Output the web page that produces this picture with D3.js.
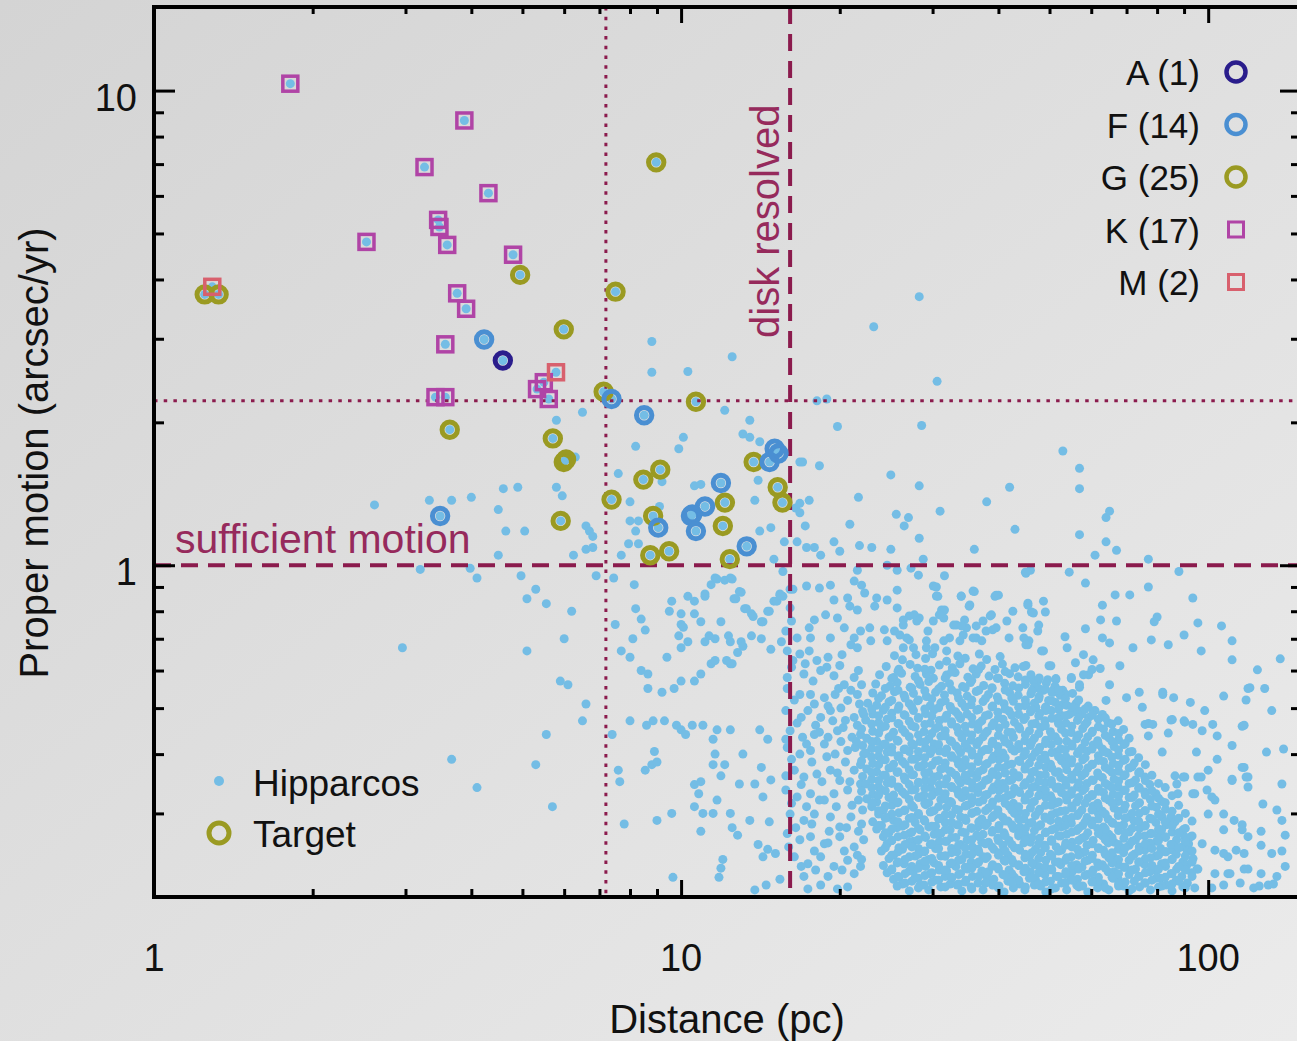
<!DOCTYPE html>
<html>
<head>
<meta charset="utf-8">
<script src="https://cdn.jsdelivr.net/npm/d3@7"></script>
<style>
html,body{margin:0;padding:0;overflow:hidden;}
text{font-family:"Liberation Sans",Arial,Helvetica,sans-serif;}
</style>
</head>
<body>
<div id="chart"></div>
<script>
// ---- data: [distance (pc), proper motion (arcsec/yr)] ----
var typeA = [[4.59,2.70]];
var typeF = [[4.23,2.99],[3.49,1.27],[7.38,2.24],[8.51,2.07],[15.05,1.76],[14.72,1.65],[15.3,1.72],[11.9,1.49],[11.1,1.33],[10.44,1.27],[10.5,1.28],[10.67,1.18],[9.05,1.20],[13.32,1.096]];
var typeG = [[1.248,3.72],[1.326,3.72],[8.97,7.06],[4.95,4.09],[7.51,3.77],[5.99,3.14],[7.13,2.32],[10.67,2.21],[3.64,1.93],[5.71,1.85],[5.99,1.65],[6.05,1.67],[5.91,1.24],[7.38,1.375],[8.48,1.515],[9.13,1.59],[8.85,1.27],[8.74,1.05],[9.49,1.07],[12.11,1.355],[12.0,1.21],[12.37,1.03],[13.73,1.65],[15.25,1.46],[15.57,1.355]];
var typeK = [[1.814,10.34],[3.88,8.65],[3.26,6.9],[4.31,6.08],[2.53,4.8],[3.46,5.34],[3.48,5.16],[3.6,4.73],[4.8,4.51],[3.76,3.74],[3.91,3.47],[3.57,2.92],[3.42,2.26],[3.57,2.26],[5.33,2.35],[5.49,2.43],[5.61,2.24]];
var typeM = [[1.29,3.86],[5.79,2.55]];

var legendLabels = ["A (1)","F (14)","G (25)","K (17)","M (2)"];
var xTickLabels = [1,10,100];
var yTickLabels = [1,10];
var xMinor = [2,3,4,5,6,7,8,9,20,30,40,50,60,70,80,90];
var yMinor = [0.3,0.4,0.5,0.6,0.7,0.8,0.9,2,3,4,5,6,7,8,9];

var motionLimit = 1.0, motionDotted = 2.22;
var distLimit = 16.1, distDotted = 7.2;

// Hipparcos stars, by region
var hipHigh = [[2.62,1.34],[3.33,1.37],[3.67,1.37],[4.0,1.39],[4.5,1.31],[4.6,1.45],[4.9,1.46],[4.65,1.18],[5.05,1.18],[4.5,1.05],[5.8,1.46],[5.95,1.4],[5.8,2.02],[6.5,2.1],[6.3,1.69],[6.6,1.21],[6.7,1.18],[6.8,1.15],[6.8,1.09],[6.6,1.08],[6.25,1.05],[7.6,1.56],[7.7,1.05],[7.95,1.11],[8.0,1.24],[8.0,1.36],[8.2,1.18],[8.2,1.78],[8.3,1.11],[8.3,1.24],[8.8,2.55],[8.8,2.96],[9.1,1.33],[9.2,1.5],[9.9,1.76],[10.1,1.86],[10.3,2.56],[10.6,1.47],[10.9,1.48],[12.1,2.12],[12.5,2.75],[13.1,1.89],[13.5,1.86],[13.5,2.02],[13.8,1.37],[14.0,1.51],[14.1,1.82],[14.1,1.18],[14.8,1.2],[15.0,1.03],[15.7,1.12],[16.5,1.32],[16.6,1.12],[16.8,1.29],[16.8,1.65],[16.8,1.35],[17.0,1.65],[17.2,1.21],[17.3,1.09],[17.5,1.37],[17.9,1.09],[18.1,2.22],[18.3,1.62],[18.4,1.05],[18.9,2.24],[19.5,1.12],[19.8,1.96],[20.0,1.07],[20.9,1.22],[21.7,1.39],[21.8,1.1],[23,1.09],[23.2,3.18],[25,1.55],[25,1.08],[25.6,1.28],[26.5,1.21],[27,1.26],[28.3,3.68],[28.3,1.47],[28.3,1.14],[28.6,1.97],[28.8,1.03],[30.6,2.44],[31,1.3],[36,1.08],[38,1.36],[42,1.46],[43,1.19],[53,1.74],[57,1.6],[57,1.45],[57,1.16],[61,1.05],[64,1.12],[64,1.26],[65,1.3],[67,1.075],[77,1.03]];

var hipLow = [[2.96,.67],[3.2,.98],[3.67,.39],[4.1,.34],[3.98,.985],[4.1,.94],[4.97,.95],[5.3,.89],[5.1,.85],[5.55,.83],[5.55,.44],[5.3,.38],[5.7,.31],[5.1,.66],[5.9,.57],[6.1,.56],[6.0,.70],[6.2,.80],[6.5,.47],[6.6,.51],[6.9,.95],[7.45,.94],[7.5,.75],[7.4,.44],[7.6,.37],[7.65,.35],[7.8,.285],[7.7,.66],[8.0,.64],[8.1,.70],[8.0,.47],[8.15,.91],[8.2,.81],[8.4,.77],[8.55,.73],[8.4,.60],[8.65,.59],[8.6,.46],[8.55,.37],[8.65,.55],[8.8,.38],[8.85,.47],[8.9,.405],[9.0,.385],[9.0,.29],[9.2,.54],[9.3,.47],[9.4,.64],[9.5,.80],[9.6,.84],[9.6,.30],[9.65,.22],[9.7,.55],[9.8,.46],[10.0,.57],[10.0,.45],[10.0,.75],[9.9,.71],[10.1,.74],[10.3,.69],[10.0,.67],[10.0,.79],[10.2,.44],[10.3,.86],[10.5,.46],[10.6,.84],[10.6,.57],[10.6,.79],[10.6,.345],[10.6,.31],[10.8,.33],[10.9,.59],[10.9,.76],[10.9,.35],[10.9,.275],[11.0,.46],[11.0,.30],[11.1,.87],[11.1,.69],[11.3,.71],[11.4,.91],[11.4,.62],[11.5,.43],[11.5,.38],[11.5,.30],[11.6,.94],[11.6,.63],[11.6,.70],[11.6,.40],[11.7,.45],[11.7,.32],[11.8,.22],[11.9,.76],[11.9,.36],[11.9,.23],[12.0,.24],[12.1,.93],[12.1,.38],[11.7,.935],[11.1,.86]];

var hipNear = [[12.3,.71],[12.4,.94],[12.4,.69],[12.4,.62],[12.4,.45],[12.4,.30],[12.5,.28],[12.6,.85],[12.8,.27],[12.9,.88],[12.9,.346],[13.0,.69],[13.1,.40],[13.2,.81],[13.5,.29],[13.6,.79],[13.8,.346],[13.8,.207],[14.0,.258],[14.1,.45],[14.2,.76],[14.2,.375],[14.3,.325],[14.3,.243],[14.5,.212],[14.6,.80],[14.6,.43],[14.6,.252],[14.7,.288],[14.8,.353],[15.0,.84],[15.1,.247],[15.4,.87],[15.4,.218],[16.1,.89],[12.2,.63],[12.8,.655],[13.1,.675],[13.6,.71],[14.2,.70],[14.8,.665],[15.5,.69],[12.7,.85],[13.3,.81],[13.7,.78],[14.3,.76],[14.7,.80],[15.2,.84],[15.6,.86],[16.3,.89],[12.5,.935],[13.0,.877],[12.5,.62],[15.6,.97]];

var hipMid = [[15.9,.66],[16.8,.65],[17.5,.66],[18.1,.63],[19.0,.64],[20.2,.648],[21.0,.68],[21.6,.67],[16.2,.61],[17.1,.59],[18.4,.60],[19.5,.585],[20.4,.56],[21.3,.58],[22.0,.56],[15.9,.55],[16.8,.534],[17.6,.534],[18.7,.526],[19.6,.534],[20.7,.519],[21.6,.534],[15.8,.494],[16.9,.478],[17.4,.494],[18.4,.478],[19.2,.494],[20.5,.471],[21.3,.478],[22.2,.485],[16.1,.448],[17.0,.434],[17.9,.44],[19.0,.434],[19.8,.448],[21.1,.434],[21.9,.44],[15.9,.413],[16.8,.40],[17.6,.407],[18.7,.42],[19.6,.40],[20.7,.407],[21.4,.413],[22.2,.40],[16.4,.37],[17.1,.358],[18.1,.363],[19.2,.37],[20.0,.352],[21.3,.37],[21.9,.346],[15.8,.336],[16.6,.325],[17.6,.33],[18.7,.32],[19.5,.33],[20.7,.336],[21.7,.32],[16.1,.299],[17.1,.29],[17.9,.299],[19.2,.295],[20.0,.281],[21.0,.295],[22.0,.285],[15.9,.272],[16.8,.264],[17.6,.268],[18.7,.259],[20.0,.268],[21.3,.255],[22.2,.264],[16.4,.243],[17.4,.235],[18.4,.243],[19.5,.232],[20.7,.239],[21.9,.232],[17.1,.221],[19.0,.221],[21.3,.224],[19.8,.208],
[16.3,.63],[17.2,.62],[18.9,.61],[20.0,.615],[21.7,.60],[15.9,.58],[17.8,.57],[19.9,.55],[21.0,.545],[16.4,.52],[17.9,.51],[19.0,.505],[20.1,.50],[21.8,.51],[16.6,.465],[18.0,.46],[19.4,.47],[20.3,.455],[21.6,.46],[15.8,.43],[17.3,.42],[18.3,.445],[20.1,.425],[21.5,.425],[16.2,.39],[17.7,.385],[18.9,.395],[20.5,.385],[21.9,.38],[15.8,.36],[16.9,.345],[18.5,.35],[19.8,.365],[20.9,.35],[16.2,.315],[17.3,.31],[18.3,.32],[19.7,.31],[21.1,.312],[22.1,.305],[16.5,.28],[17.7,.285],[19.1,.275],[20.6,.28],[21.7,.275],[16.0,.255],[17.9,.25],[19.0,.26],[20.4,.25],[21.6,.245],[16.9,.232],[18.0,.228],[20.2,.228],[22.0,.24],[18.4,.212],[20.7,.21],[17.4,.208]];

var hipUpper = [[24.6,1.0],[21.6,.976],[25.7,.976],[27.3,.986],[28.2,.953],[31.6,.95],[45.1,.962],[17.3,.904],[18.3,.895],[19.2,.908],[19.5,.845],[20.7,.853],[21.3,.926],[22.0,.908],[22.3,.874],[23.5,.853],[24.6,.845],[23.3,.82],[21.6,.805],[20.9,.82],[25.7,.886],[25.7,.813],[30.1,.904],[30.5,.861],[34.0,.861],[35.8,.882],[35.2,.82],[31.2,.805],[31.5,.774],[39.6,.865],[42.6,.80],[45.5,.832],[38.8,.786],[37.4,.763],[33.3,.748],[34.8,.738],[29.4,.727],[28.3,.774],[27.1,.782],[26.4,.748],[25.4,.727],[24.3,.731],[22.8,.738],[21.9,.727],[20.4,.738],[19.8,.774],[18.8,.786],[17.9,.767],[17.5,.738],[16.2,.763],[16.1,.813],[15.4,.865],[15.8,.727],[16.6,.703],[17.6,.703],[19.2,.703],[21.3,.703],[22.9,.693],[24.6,.693],[27.1,.696],[29.2,.693],[32.3,.703],[34.3,.713],[36.3,.703],[39.0,.731],[41.9,.703],[45.7,.693],[44.5,.738],[41.5,.763],[38.6,.782],[39.6,.738],[36.3,.745],[37.9,.727],[35.8,.703],[37.2,.693],[34.5,.767],[34.0,.745],[32.9,.748],[33.8,.693],[31.5,.693],[31.6,.805],[30.9,.786],[30.1,.763],[27.7,.786],[28.0,.763],[26.4,.767],[26.8,.703],[26.0,.713],[26.4,.67],[27.6,.67],[29.2,.67],[30.3,.67],[31.9,.66],[54.5,.967],[88,.97],[45,.967],[46,.976],[58.5,.917],[77,.90],[93.5,.853],[66.6,.866],[71,.866],[63,.824],[48.7,.84],[49.1,.797],[46.2,.797],[45.5,.824],[40,.865],[39.4,.86],[36,.88],[34,.86],[35.3,.825],[30.5,.90],[30.7,.86],[95.6,.756],[106,.745],[111,.693],[111,.632],[137,.635],[124,.602],[120,.552],[90,.713],[97,.66],[84,.68],[78,.696],[80,.778],[79,.76],[72,.67],[68,.614],[67,.763],[62.5,.767],[63,.703],[65,.686],[58.5,.735],[53.5,.707],[54,.67],[60.5,.632],[62.4,.606],[58,.648],[56,.623],[59.3,.588],[57,.553],[55,.577],[51.4,.577],[49.9,.614],[50.8,.545],[53,.545],[47.7,.748],[47.5,.727],[46.6,.793],[44.7,.703],[45.5,.68],[48.7,.66],[47.5,.571],[48.7,.545],[45.1,.68],[48.3,.66],[45.1,.615],[50.3,.614],[49.6,.574],[51.4,.574],[46.6,.571],[47.7,.55],[50.8,.54],[53.7,.534],[49.8,.519],[53,.509],[55,.58],[57,.56],[58,.588],[60.2,.603],[65,.56],[70,.526],[74,.54],[75,.502],[64,.519],[61,.494],[59.3,.478],[56.6,.494],[54.5,.485],[52.2,.478],[49.2,.494],[47.1,.502],[45.1,.509],[132,.494],[119,.55],[118,.52],[107,.53],[116,.458],[129,.404],[139,.41],[98.5,.494],[102,.462],[92.5,.514],[90,.47],[85,.472],[84,.443],[77,.464],[82,.534],[86,.526],[82,.54],[128,.55],[117,.46]];

var hipFar = [[75.9,.462],[78.5,.462],[85.5,.473],[90.3,.467],[93.5,.462],[97.4,.448],[104,.437],[77,.437],[81.8,.404],[95,.404],[104,.39],[111,.417],[117,.375],[119,.358],[111,.352],[100,.37],[95.6,.358],[90.3,.358],[86.5,.36],[87.6,.33],[94.3,.33],[101.6,.325],[107,.299],[112,.29],[116,.284],[119,.268],[126,.257],[132,.247],[117,.247],[109,.243],[103,.251],[97.4,.259],[92.8,.268],[89.6,.277],[85.5,.285],[81.8,.295],[80.6,.268],[85.5,.251],[90.3,.235],[95.6,.229],[103,.224],[109,.224],[119,.229],[126,.224],[135,.221],[130,.212],[122,.209],[115,.214],[107,.212],[101.6,.209],[94.3,.209],[116,.375],[111,.354],[118,.358],[119,.341],[127,.314],[126,.275],[135,.305],[138,.346],[138,.29],[140,.27],[138,.25],[140,.232],[133,.213],[125,.211],[117,.229],[110,.224],[113,.251],[107,.247],[116,.277],[107,.277],[100,.299],[103,.32],[97,.358],[89.7,.358],[87.2,.346],[93.5,.33],[99.5,.336]];

var hipCore = [
[25.4,.645],[26.3,.632],[27.9,.648],[29.1,.636],[30.0,.651],[31.9,.628],[33.5,.644],[34.6,.637],[36.8,.65],[38.0,.633],[40.3,.642],
[24.5,.612],[25.9,.604],[27.2,.618],[28.1,.607],[29.8,.601],[30.9,.616],[32.7,.608],[33.8,.62],[35.8,.605],[37.1,.613],[39.4,.603],[40.7,.619],[43.0,.608],[44.6,.612],
[23.8,.588],[25.3,.58],[26.2,.592],[27.8,.583],[29.2,.59],[30.1,.578],[31.9,.587],[33.1,.594],[35.0,.581],[36.3,.59],[38.4,.584],[39.8,.578],[42.0,.591],[43.6,.582],[46.1,.588],[47.8,.579],
[23.4,.562],[24.9,.556],[25.7,.566],[27.2,.553],[28.4,.561],[29.5,.569],[31.2,.556],[32.3,.563],[34.2,.555],[35.4,.566],[37.5,.558],[38.9,.552],[41.1,.564],[42.6,.557],[45.0,.561],[46.7,.553],[49.3,.565],[51.2,.556],
[23.1,.538],[24.0,.531],[25.4,.541],[26.5,.532],[27.6,.537],[29.2,.529],[30.4,.54],[31.6,.533],[33.4,.538],[34.9,.53],[36.3,.542],[38.3,.534],[39.8,.528],[42.0,.539],[43.6,.532],[46.1,.536],[47.8,.529],[50.5,.54],[52.4,.532],[55.3,.537],
[22.6,.512],[23.5,.507],[24.8,.515],[25.9,.505],[27.1,.511],[28.1,.518],[29.7,.506],[31.1,.513],[32.4,.504],[34.1,.512],[35.5,.508],[37.4,.516],[39.0,.505],[41.0,.511],[42.7,.517],[44.9,.506],[46.8,.512],[49.2,.503],[51.3,.514],[53.9,.507],[56.2,.512],[59.2,.505],
[22.1,.492],[23.1,.486],[24.2,.495],[25.1,.488],[26.5,.484],[27.6,.494],[29.1,.487],[30.2,.496],[31.9,.483],[33.2,.491],[34.9,.486],[36.4,.495],[38.3,.484],[39.9,.49],[41.9,.493],[43.7,.485],[46.0,.491],[47.9,.487],[50.4,.494],[52.5,.483],[55.2,.49],[57.6,.486],[60.5,.493],[63.0,.485],
[22.4,.472],[23.7,.466],[24.6,.474],[25.9,.463],[27.1,.469],[28.2,.476],[29.7,.465],[30.9,.471],[32.6,.468],[33.9,.475],[35.7,.463],[37.2,.47],[39.2,.466],[40.8,.474],[42.9,.467],[44.7,.473],[47.0,.464],[49.0,.47],[51.5,.475],[53.7,.465],[56.5,.471],[58.9,.467],[61.9,.474],[64.6,.466],[67.5,.47],
[22.0,.452],[23.1,.447],[24.0,.455],[25.3,.445],[26.3,.451],[27.8,.456],[28.9,.446],[30.4,.453],[31.7,.448],[33.4,.455],[34.7,.444],[36.6,.451],[38.1,.447],[40.1,.454],[41.7,.445],[43.9,.452],[45.8,.448],[48.1,.455],[50.2,.446],[52.7,.451],[55.0,.444],[57.8,.453],[60.3,.447],[63.3,.452],[66.0,.446],[69.1,.451],
[22.5,.432],[23.5,.426],[24.8,.434],[25.7,.428],[27.1,.435],[28.4,.425],[29.5,.431],[31.1,.436],[32.4,.427],[34.1,.433],[35.5,.428],[37.4,.435],[39.0,.426],[41.0,.431],[42.7,.434],[44.9,.427],[46.8,.432],[49.2,.428],[51.3,.435],[53.9,.426],[56.3,.431],[59.1,.435],[61.7,.427],[64.8,.433],[67.6,.429],[70.8,.432],
[22.1,.417],[23.0,.411],[24.2,.419],[25.1,.413],[26.5,.409],[27.6,.418],[29.1,.412],[30.2,.42],[31.9,.41],[33.2,.416],[34.9,.412],[36.4,.419],[38.3,.409],[39.9,.415],[41.9,.42],[43.7,.411],[46.0,.417],[47.9,.413],[50.4,.419],[52.5,.41],[55.2,.416],[57.6,.412],[60.5,.418],[63.0,.41],[66.3,.415],[69.2,.419],
[22.4,.402],[23.7,.396],[24.6,.404],[25.9,.397],[27.1,.405],[28.2,.395],[29.7,.401],[30.9,.406],[32.6,.397],[33.9,.403],[35.7,.398],[37.2,.405],[39.2,.396],[40.8,.402],[42.9,.406],[44.7,.397],[47.0,.403],[49.0,.398],[51.5,.404],[53.7,.395],[56.5,.401],[58.9,.406],[61.9,.397],[64.6,.402],[67.5,.398],[70.8,.404],
[22.0,.387],[23.1,.382],[24.0,.389],[25.3,.381],[26.3,.386],[27.8,.39],[28.9,.38],[30.4,.387],[31.7,.383],[33.4,.389],[34.7,.379],[36.6,.386],[38.1,.382],[40.1,.389],[41.7,.38],[43.9,.386],[45.8,.383],[48.1,.39],[50.2,.381],[52.7,.387],[55.0,.383],[57.8,.389],[60.3,.38],[63.3,.386],[66.0,.382],[69.1,.388],[72.4,.383],
[22.5,.372],[23.5,.367],[24.8,.374],[25.7,.366],[27.1,.371],[28.4,.376],[29.5,.366],[31.1,.372],[32.4,.368],[34.1,.374],[35.5,.365],[37.4,.371],[39.0,.367],[41.0,.374],[42.7,.366],[44.9,.372],[46.8,.368],[49.2,.375],[51.3,.366],[53.9,.371],[56.3,.367],[59.1,.374],[61.7,.365],[64.8,.371],[67.6,.368],[70.8,.374],[74.1,.367],
[22.1,.359],[23.0,.354],[24.2,.361],[25.1,.353],[26.5,.358],[27.6,.362],[29.1,.352],[30.2,.358],[31.9,.355],[33.2,.361],[34.9,.352],[36.4,.357],[38.3,.354],[39.9,.36],[41.9,.352],[43.7,.358],[46.0,.355],[47.9,.361],[50.4,.352],[52.5,.357],[55.2,.354],[57.6,.36],[60.5,.352],[63.0,.357],[66.3,.354],[69.2,.36],[72.8,.353],[75.8,.358],
[22.4,.346],[23.7,.341],[24.6,.348],[25.9,.34],[27.1,.345],[28.2,.349],[29.7,.34],[30.9,.345],[32.6,.342],[33.9,.348],[35.7,.339],[37.2,.344],[39.2,.341],[40.8,.347],[42.9,.339],[44.7,.344],[47.0,.342],[49.0,.348],[51.5,.339],[53.7,.344],[56.5,.341],[58.9,.347],[61.9,.339],[64.6,.344],[67.5,.341],[70.8,.347],[74.0,.34],[77.5,.345],
[22.0,.334],[23.1,.329],[24.0,.336],[25.3,.328],[26.3,.333],[27.8,.337],[28.9,.328],[30.4,.333],[31.7,.33],[33.4,.336],[34.7,.327],[36.6,.332],[38.1,.329],[40.1,.335],[41.7,.327],[43.9,.332],[45.8,.33],[48.1,.336],[50.2,.327],[52.7,.332],[55.0,.329],[57.8,.335],[60.3,.327],[63.3,.332],[66.0,.329],[69.1,.335],[72.4,.328],[75.8,.333],[79.6,.33],
[22.5,.322],[23.5,.317],[24.8,.324],[25.7,.316],[27.1,.321],[28.4,.325],[29.5,.316],[31.1,.321],[32.4,.318],[34.1,.324],[35.5,.315],[37.4,.32],[39.0,.317],[41.0,.323],[42.7,.315],[44.9,.32],[46.8,.318],[49.2,.324],[51.3,.315],[53.9,.32],[56.3,.317],[59.1,.323],[61.7,.315],[64.8,.32],[67.6,.318],[70.8,.324],[74.1,.316],[77.7,.321],[81.6,.318],
[23.0,.31],[24.2,.305],[25.1,.312],[26.5,.304],[27.6,.309],[29.1,.313],[30.2,.304],[31.9,.309],[33.2,.306],[34.9,.312],[36.4,.303],[38.3,.308],[39.9,.305],[41.9,.311],[43.7,.303],[46.0,.308],[47.9,.306],[50.4,.312],[52.5,.303],[55.2,.308],[57.6,.305],[60.5,.311],[63.0,.303],[66.3,.308],[69.2,.306],[72.8,.311],[75.8,.304],[79.8,.309],[83.0,.306],
[23.7,.299],[24.6,.294],[25.9,.301],[27.1,.293],[28.2,.298],[29.7,.302],[30.9,.293],[32.6,.298],[33.9,.295],[35.7,.301],[37.2,.292],[39.2,.297],[40.8,.294],[42.9,.3],[44.7,.292],[47.0,.297],[49.0,.295],[51.5,.301],[53.7,.292],[56.5,.297],[58.9,.294],[61.9,.3],[64.6,.292],[67.5,.297],[70.8,.295],[74.0,.3],[77.5,.293],[81.2,.298],[85.0,.295],
[23.1,.288],[24.0,.283],[25.3,.29],[26.3,.282],[27.8,.287],[28.9,.291],[30.4,.282],[31.7,.287],[33.4,.284],[34.7,.29],[36.6,.281],[38.1,.286],[40.1,.283],[41.7,.289],[43.9,.281],[45.8,.286],[48.1,.284],[50.2,.29],[52.7,.281],[55.0,.286],[57.8,.283],[60.3,.289],[63.3,.281],[66.0,.286],[69.1,.284],[72.4,.289],[75.8,.282],[79.6,.287],[83.2,.284],[86.5,.288],
[23.5,.278],[24.8,.273],[25.7,.28],[27.1,.272],[28.4,.277],[29.5,.281],[31.1,.272],[32.4,.277],[34.1,.274],[35.5,.28],[37.4,.271],[39.0,.276],[41.0,.273],[42.7,.279],[44.9,.271],[46.8,.276],[49.2,.274],[51.3,.279],[53.9,.271],[56.3,.276],[59.1,.273],[61.7,.279],[64.8,.271],[67.6,.276],[70.8,.274],[74.1,.279],[77.7,.272],[81.6,.277],[85.4,.274],
[24.2,.268],[25.1,.263],[26.5,.27],[27.6,.262],[29.1,.267],[30.2,.271],[31.9,.262],[33.2,.267],[34.9,.264],[36.4,.27],[38.3,.261],[39.9,.266],[41.9,.263],[43.7,.269],[46.0,.261],[47.9,.266],[50.4,.264],[52.5,.269],[55.2,.261],[57.6,.266],[60.5,.263],[63.0,.269],[66.3,.261],[69.2,.266],[72.8,.264],[75.8,.269],[79.8,.262],[83.0,.267],[87.1,.264],[90.2,.268],
[24.6,.259],[25.9,.254],[27.1,.261],[28.2,.253],[29.7,.258],[30.9,.262],[32.6,.253],[33.9,.258],[35.7,.255],[37.2,.261],[39.2,.252],[40.8,.257],[42.9,.254],[44.7,.26],[47.0,.252],[49.0,.257],[51.5,.255],[53.7,.26],[56.5,.252],[58.9,.257],[61.9,.254],[64.6,.26],[67.5,.252],[70.8,.257],[74.0,.255],[77.5,.26],[81.2,.253],[85.0,.258],[89.1,.255],[91.8,.259],
[24.0,.25],[25.3,.245],[26.3,.252],[27.8,.244],[28.9,.249],[30.4,.253],[31.7,.244],[33.4,.249],[34.7,.246],[36.6,.252],[38.1,.243],[40.1,.248],[41.7,.245],[43.9,.251],[45.8,.243],[48.1,.248],[50.2,.246],[52.7,.251],[55.0,.243],[57.8,.248],[60.3,.245],[63.3,.251],[66.0,.243],[69.1,.248],[72.4,.246],[75.8,.251],[79.6,.244],[83.2,.249],[87.0,.246],[91.3,.25],
[24.8,.241],[25.7,.236],[27.1,.243],[28.4,.235],[29.5,.24],[31.1,.244],[32.4,.235],[34.1,.24],[35.5,.237],[37.4,.243],[39.0,.234],[41.0,.239],[42.7,.236],[44.9,.242],[46.8,.234],[49.2,.239],[51.3,.237],[53.9,.242],[56.3,.234],[59.1,.239],[61.7,.236],[64.8,.242],[67.6,.234],[70.8,.239],[74.1,.237],[77.7,.242],[81.6,.235],[85.4,.24],[89.5,.237],[93.6,.241],
[24.2,.233],[25.1,.228],[26.5,.235],[27.6,.227],[29.1,.232],[30.2,.236],[31.9,.227],[33.2,.232],[34.9,.229],[36.4,.235],[38.3,.226],[39.9,.231],[41.9,.228],[43.7,.234],[46.0,.226],[47.9,.231],[50.4,.229],[52.5,.234],[55.2,.226],[57.6,.231],[60.5,.228],[63.0,.234],[66.3,.226],[69.2,.231],[72.8,.229],[75.8,.234],[79.8,.227],[83.0,.232],[87.1,.229],[91.0,.233],[95.2,.229],
[24.6,.225],[25.9,.22],[27.1,.227],[28.2,.219],[29.7,.224],[30.9,.228],[32.6,.219],[33.9,.224],[35.7,.221],[37.2,.227],[39.2,.218],[40.8,.223],[42.9,.22],[44.7,.226],[47.0,.218],[49.0,.223],[51.5,.221],[53.7,.226],[56.5,.218],[58.9,.223],[61.9,.22],[64.6,.226],[67.5,.218],[70.8,.223],[74.0,.221],[77.5,.226],[81.2,.219],[85.0,.224],[89.1,.221],[93.0,.225],
[25.3,.218],[26.3,.213],[27.8,.22],[28.9,.212],[30.4,.217],[31.7,.221],[33.4,.212],[34.7,.217],[36.6,.214],[38.1,.22],[40.1,.211],[41.7,.216],[43.9,.213],[45.8,.219],[48.1,.211],[50.2,.216],[52.7,.214],[55.0,.219],[57.8,.211],[60.3,.216],[63.3,.213],[66.0,.219],[69.1,.211],[72.4,.216],[75.8,.214],[79.6,.219],[83.2,.212],[87.0,.217],[91.3,.214],
[25.7,.211],[27.1,.206],[28.4,.212],[29.5,.207],[31.1,.21],[32.4,.213],[34.1,.206],[35.5,.21],[37.4,.207],[39.0,.212],[41.0,.205],[42.7,.209],[44.9,.207],[46.8,.212],[49.2,.205],[51.3,.209],[53.9,.207],[56.3,.212],[59.1,.205],[61.7,.209],[64.8,.207],[67.6,.211],[70.8,.206],[74.1,.21],[77.7,.207],[81.6,.211],[85.4,.206],[89.5,.21]
];

// second, denser layer of the main cloud
var hipCore2 = [
[25.8,.598],[29.0,.604],[32.6,.596],[36.7,.603],[41.2,.597],
[25.1,.577],[28.2,.571],[31.7,.579],[35.6,.572],[40.0,.578],[45.0,.573],
[24.4,.55],[25.8,.545],[27.4,.551],[29.0,.544],[30.8,.549],[32.6,.546],[34.6,.552],[36.7,.545],[38.9,.55],[41.2,.546],[43.7,.551],[46.3,.544],[49.1,.549],[52.0,.546],
[23.7,.524],[25.1,.519],[26.6,.525],[28.2,.52],[29.9,.523],[31.7,.518],[33.6,.525],[35.6,.52],[37.8,.524],[40.0,.519],[42.4,.525],[45.0,.52],[47.7,.523],[50.5,.518],[53.6,.524],[56.8,.52],
[23.0,.498],[24.4,.502],[25.8,.497],[27.4,.503],[29.0,.498],[30.8,.501],[32.6,.496],[34.6,.502],[36.7,.497],[38.9,.503],[41.2,.498],[43.7,.502],[46.3,.496],[49.1,.501],[52.0,.497],[55.1,.503],[58.4,.498],
[23.7,.482],[25.1,.477],[26.6,.483],[28.2,.478],[29.9,.481],[31.7,.476],[33.6,.483],[35.6,.478],[37.8,.482],[40.0,.477],[42.4,.483],[45.0,.478],[47.7,.481],[50.5,.476],[53.6,.482],[56.8,.478],[60.2,.483],[63.8,.477],
[23.0,.463],[24.4,.458],[25.8,.464],[27.4,.459],[29.0,.462],[30.8,.457],[32.6,.463],[34.6,.458],[36.7,.464],[38.9,.459],[41.2,.462],[43.7,.457],[46.3,.463],[49.1,.459],[52.0,.464],[55.1,.458],[58.4,.462],[61.9,.457],[65.7,.463],
[23.7,.443],[25.1,.438],[26.6,.444],[28.2,.439],[29.9,.442],[31.7,.437],[33.6,.444],[35.6,.439],[37.8,.443],[40.0,.438],[42.4,.444],[45.0,.439],[47.7,.442],[50.5,.437],[53.6,.443],[56.8,.439],[60.2,.444],[63.8,.438],[67.6,.442],
[23.0,.425],[24.4,.42],[25.8,.426],[27.4,.421],[29.0,.424],[30.8,.419],[32.6,.425],[34.6,.42],[36.7,.426],[38.9,.421],[41.2,.424],[43.7,.419],[46.3,.425],[49.1,.421],[52.0,.426],[55.1,.42],[58.4,.424],[61.9,.419],[65.7,.425],[69.6,.421],
[23.7,.409],[25.1,.404],[26.6,.41],[28.2,.405],[29.9,.408],[31.7,.403],[33.6,.41],[35.6,.405],[37.8,.409],[40.0,.404],[42.4,.41],[45.0,.405],[47.7,.408],[50.5,.403],[53.6,.409],[56.8,.405],[60.2,.41],[63.8,.404],[67.6,.408],[71.7,.405],
[23.0,.394],[24.4,.389],[25.8,.395],[27.4,.39],[29.0,.393],[30.8,.388],[32.6,.394],[34.6,.389],[36.7,.395],[38.9,.39],[41.2,.393],[43.7,.388],[46.3,.394],[49.1,.39],[52.0,.395],[55.1,.389],[58.4,.393],[61.9,.388],[65.7,.394],[69.6,.39],[73.8,.393],
[23.7,.38],[25.1,.375],[26.6,.381],[28.2,.376],[29.9,.379],[31.7,.374],[33.6,.381],[35.6,.376],[37.8,.38],[40.0,.375],[42.4,.381],[45.0,.376],[47.7,.379],[50.5,.374],[53.6,.38],[56.8,.376],[60.2,.381],[63.8,.375],[67.6,.379],[71.7,.376],[76.0,.38],
[23.0,.366],[24.4,.361],[25.8,.367],[27.4,.362],[29.0,.365],[30.8,.36],[32.6,.366],[34.6,.361],[36.7,.367],[38.9,.362],[41.2,.365],[43.7,.36],[46.3,.366],[49.1,.362],[52.0,.367],[55.1,.361],[58.4,.365],[61.9,.36],[65.7,.366],[69.6,.362],[73.8,.365],[78.2,.361],
[23.7,.352],[25.1,.347],[26.6,.353],[28.2,.348],[29.9,.351],[31.7,.346],[33.6,.353],[35.6,.348],[37.8,.352],[40.0,.347],[42.4,.353],[45.0,.348],[47.7,.351],[50.5,.346],[53.6,.352],[56.8,.348],[60.2,.353],[63.8,.347],[67.6,.351],[71.7,.348],[76.0,.352],[80.5,.347],
[23.0,.34],[24.4,.335],[25.8,.341],[27.4,.336],[29.0,.339],[30.8,.334],[32.6,.34],[34.6,.335],[36.7,.341],[38.9,.336],[41.2,.339],[43.7,.334],[46.3,.34],[49.1,.336],[52.0,.341],[55.1,.335],[58.4,.339],[61.9,.334],[65.7,.34],[69.6,.336],[73.8,.339],[78.2,.335],[82.9,.34],
[23.7,.328],[25.1,.323],[26.6,.329],[28.2,.324],[29.9,.327],[31.7,.322],[33.6,.329],[35.6,.324],[37.8,.328],[40.0,.323],[42.4,.329],[45.0,.324],[47.7,.327],[50.5,.322],[53.6,.328],[56.8,.324],[60.2,.329],[63.8,.323],[67.6,.327],[71.7,.324],[76.0,.328],[80.5,.323],[85.4,.327],
[23.0,.316],[24.4,.311],[25.8,.317],[27.4,.312],[29.0,.315],[30.8,.31],[32.6,.316],[34.6,.311],[36.7,.317],[38.9,.312],[41.2,.315],[43.7,.31],[46.3,.316],[49.1,.312],[52.0,.317],[55.1,.311],[58.4,.315],[61.9,.31],[65.7,.316],[69.6,.312],[73.8,.315],[78.2,.311],[82.9,.316],[87.9,.312],
[23.7,.304],[25.1,.299],[26.6,.305],[28.2,.3],[29.9,.303],[31.7,.298],[33.6,.305],[35.6,.3],[37.8,.304],[40.0,.299],[42.4,.305],[45.0,.3],[47.7,.303],[50.5,.298],[53.6,.304],[56.8,.3],[60.2,.305],[63.8,.299],[67.6,.303],[71.7,.3],[76.0,.304],[80.5,.299],[85.4,.303],[90.5,.3],
[24.4,.293],[25.8,.288],[27.4,.294],[29.0,.289],[30.8,.292],[32.6,.287],[34.6,.293],[36.7,.288],[38.9,.294],[41.2,.289],[43.7,.292],[46.3,.287],[49.1,.293],[52.0,.289],[55.1,.294],[58.4,.288],[61.9,.292],[65.7,.287],[69.6,.293],[73.8,.289],[78.2,.292],[82.9,.288],[87.9,.293],[93.2,.289],
[23.7,.283],[25.1,.278],[26.6,.284],[28.2,.279],[29.9,.282],[31.7,.277],[33.6,.284],[35.6,.279],[37.8,.283],[40.0,.278],[42.4,.284],[45.0,.279],[47.7,.282],[50.5,.277],[53.6,.283],[56.8,.279],[60.2,.284],[63.8,.278],[67.6,.282],[71.7,.279],[76.0,.283],[80.5,.278],[85.4,.282],[90.5,.279],
[24.4,.273],[25.8,.268],[27.4,.274],[29.0,.269],[30.8,.272],[32.6,.267],[34.6,.273],[36.7,.268],[38.9,.274],[41.2,.269],[43.7,.272],[46.3,.267],[49.1,.273],[52.0,.269],[55.1,.274],[58.4,.268],[61.9,.272],[65.7,.267],[69.6,.273],[73.8,.269],[78.2,.272],[82.9,.268],[87.9,.273],[93.2,.269],
[25.1,.263],[26.6,.258],[28.2,.264],[29.9,.259],[31.7,.262],[33.6,.257],[35.6,.264],[37.8,.259],[40.0,.263],[42.4,.258],[45.0,.264],[47.7,.259],[50.5,.262],[53.6,.257],[56.8,.263],[60.2,.259],[63.8,.264],[67.6,.258],[71.7,.262],[76.0,.259],[80.5,.263],[85.4,.258],[90.5,.262],
[24.4,.254],[25.8,.249],[27.4,.255],[29.0,.25],[30.8,.253],[32.6,.248],[34.6,.254],[36.7,.249],[38.9,.255],[41.2,.25],[43.7,.253],[46.3,.248],[49.1,.254],[52.0,.25],[55.1,.255],[58.4,.249],[61.9,.253],[65.7,.248],[69.6,.254],[73.8,.25],[78.2,.253],[82.9,.249],[87.9,.254],[93.2,.25],
[25.1,.245],[26.6,.24],[28.2,.246],[29.9,.241],[31.7,.244],[33.6,.239],[35.6,.246],[37.8,.241],[40.0,.245],[42.4,.24],[45.0,.246],[47.7,.241],[50.5,.244],[53.6,.239],[56.8,.245],[60.2,.241],[63.8,.246],[67.6,.24],[71.7,.244],[76.0,.241],[80.5,.245],[85.4,.24],[90.5,.244],
[25.8,.237],[27.4,.232],[29.0,.238],[30.8,.233],[32.6,.236],[34.6,.231],[36.7,.237],[38.9,.232],[41.2,.238],[43.7,.233],[46.3,.236],[49.1,.231],[52.0,.237],[55.1,.233],[58.4,.238],[61.9,.232],[65.7,.236],[69.6,.231],[73.8,.237],[78.2,.233],[82.9,.236],[87.9,.232],[93.2,.237],
[25.1,.229],[26.6,.224],[28.2,.23],[29.9,.225],[31.7,.228],[33.6,.223],[35.6,.23],[37.8,.225],[40.0,.229],[42.4,.224],[45.0,.23],[47.7,.225],[50.5,.228],[53.6,.223],[56.8,.229],[60.2,.225],[63.8,.23],[67.6,.224],[71.7,.228],[76.0,.225],[80.5,.229],[85.4,.224],[90.5,.228],
[25.8,.221],[27.4,.216],[29.0,.222],[30.8,.217],[32.6,.22],[34.6,.215],[36.7,.221],[38.9,.216],[41.2,.222],[43.7,.217],[46.3,.22],[49.1,.215],[52.0,.221],[55.1,.217],[58.4,.222],[61.9,.216],[65.7,.22],[69.6,.215],[73.8,.221],[78.2,.217],[82.9,.22],[87.9,.216],[93.2,.221],
[26.6,.214],[28.2,.209],[29.9,.215],[31.7,.21],[33.6,.213],[35.6,.208],[37.8,.214],[40.0,.209],[42.4,.215],[45.0,.21],[47.7,.213],[50.5,.208],[53.6,.214],[56.8,.21],[60.2,.215],[63.8,.209],[67.6,.213],[71.7,.208],[76.0,.214],[80.5,.21],[85.4,.213],[90.5,.209]
];

// ---- layout ----
var W = 1297, H = 1041;
var hipColor = "#74bde5";
var lineColor = "#8b1b4d";
var colA = "#2a1d8c", colF = "#4a8fd2", colG = "#9a9a22", colK = "#b044a6", colM = "#d8606d";

var svg = d3.select("#chart").append("svg").attr("width", W).attr("height", H);

var grad = svg.append("defs").append("linearGradient")
    .attr("id", "bg").attr("x1", 0).attr("y1", 0).attr("x2", 1).attr("y2", 1);
grad.append("stop").attr("offset", 0).attr("stop-color", "#d4d4d4");
grad.append("stop").attr("offset", 1).attr("stop-color", "#ebebeb");
svg.append("rect").attr("width", W).attr("height", H).attr("fill", "url(#bg)");

var plotL = 154, plotR = 1301, plotT = 7, plotB = 897;
var x = d3.scaleLog().domain([1, 150]).range([plotL, plotR]);
var y = d3.scaleLog().domain([0.2, 15]).range([plotB, plotT]);

// hipparcos dots (targets are Hipparcos stars too)
var targets = typeA.concat(typeF, typeG, typeK, typeM);
var hipAll = hipHigh.concat(hipLow, hipNear, hipMid, hipUpper, hipFar, hipCore, hipCore2, targets);

svg.append("g").selectAll("circle")
    .data(hipAll)
    .join("circle")
    .attr("cx", function(d) { return x(d[0]); })
    .attr("cy", function(d) { return y(d[1]); })
    .attr("r", 4.5)
    .attr("fill", hipColor);

// limit lines
var lines = svg.append("g").attr("stroke", lineColor).attr("fill", "none");
lines.append("line")
    .attr("x1", plotL).attr("x2", plotR)
    .attr("y1", y(motionLimit)).attr("y2", y(motionLimit))
    .attr("stroke-width", 4).attr("stroke-dasharray", "17,10");
lines.append("line")
    .attr("x1", x(distLimit)).attr("x2", x(distLimit))
    .attr("y1", plotT).attr("y2", plotB)
    .attr("stroke-width", 4).attr("stroke-dasharray", "17,10");
lines.append("line")
    .attr("x1", plotL).attr("x2", plotR)
    .attr("y1", y(motionDotted)).attr("y2", y(motionDotted))
    .attr("stroke-width", 3).attr("stroke-dasharray", "3.5,6.2");
lines.append("line")
    .attr("x1", x(distDotted)).attr("x2", x(distDotted))
    .attr("y1", plotT).attr("y2", plotB)
    .attr("stroke-width", 3).attr("stroke-dasharray", "3.5,6.2");

svg.append("text")
    .attr("x", 175).attr("y", 553)
    .attr("font-size", 41).attr("fill", "#962a5c")
    .text("sufficient motion");
svg.append("text")
    .attr("transform", "translate(779,338) rotate(-90)")
    .attr("font-size", 40).attr("fill", "#962a5c")
    .text("disk resolved");

// target markers
function rings(data, color) {
    svg.append("g").selectAll("circle")
        .data(data)
        .join("circle")
        .attr("cx", function(d) { return x(d[0]); })
        .attr("cy", function(d) { return y(d[1]); })
        .attr("r", 7.7)
        .attr("fill", "none")
        .attr("stroke", color)
        .attr("stroke-width", 5);
}
function boxes(data, color) {
    svg.append("g").selectAll("rect")
        .data(data)
        .join("rect")
        .attr("x", function(d) { return x(d[0]) - 7.5; })
        .attr("y", function(d) { return y(d[1]) - 7.5; })
        .attr("width", 15).attr("height", 15)
        .attr("fill", "none")
        .attr("stroke", color)
        .attr("stroke-width", 3.5);
}
rings(typeG, colG);
rings(typeF, colF);
rings(typeA, colA);
boxes(typeK, colK);
boxes(typeM, colM);

// axes
function ticks(gen, tr, vals, size) {
    var g = svg.append("g").attr("transform", tr)
        .call(gen.tickValues(vals).tickSize(size).tickFormat(""));
    g.select(".domain").remove();
    g.selectAll(".tick line").attr("stroke", "#000").attr("stroke-width", 3);
}
ticks(d3.axisBottom(x), "translate(0," + plotB + ")", xTickLabels, -17);
ticks(d3.axisBottom(x), "translate(0," + plotB + ")", xMinor, -8);
ticks(d3.axisTop(x), "translate(0," + plotT + ")", xTickLabels, -16);
ticks(d3.axisTop(x), "translate(0," + plotT + ")", xMinor, -7);
ticks(d3.axisLeft(y), "translate(" + plotL + ",0)", yTickLabels, -21);
ticks(d3.axisLeft(y), "translate(" + plotL + ",0)", yMinor, -10);
ticks(d3.axisRight(y), "translate(" + plotR + ",0)", yTickLabels, -21);
ticks(d3.axisRight(y), "translate(" + plotR + ",0)", yMinor, -10);

svg.append("rect")
    .attr("x", plotL).attr("y", plotT)
    .attr("width", plotR - plotL).attr("height", plotB - plotT)
    .attr("fill", "none").attr("stroke", "#000").attr("stroke-width", 4);

svg.append("g").selectAll("text")
    .data(xTickLabels)
    .join("text")
    .attr("x", function(d) { return x(d); })
    .attr("y", 971)
    .attr("text-anchor", "middle")
    .attr("font-size", 38).attr("fill", "#111")
    .text(function(d) { return d; });

svg.append("g").selectAll("text")
    .data(yTickLabels)
    .join("text")
    .attr("x", 137)
    .attr("y", function(d) { return y(d) + 20; })
    .attr("text-anchor", "end")
    .attr("font-size", 38).attr("fill", "#111")
    .text(function(d) { return d; });

svg.append("text")
    .attr("x", 727).attr("y", 1033)
    .attr("text-anchor", "middle")
    .attr("font-size", 40).attr("fill", "#111")
    .text("Distance (pc)");
svg.append("text")
    .attr("transform", "translate(48,453) rotate(-90)")
    .attr("text-anchor", "middle")
    .attr("font-size", 40).attr("fill", "#111")
    .text("Proper motion (arcsec/yr)");

// legend: spectral types
var legColors = [colA, colF, colG, colK, colM];
var legShapes = ["c", "c", "c", "s", "s"];
var leg = svg.append("g");
legendLabels.forEach(function(lbl, i) {
    var cy = 72 + i * 52.5;
    leg.append("text")
        .attr("x", 1200).attr("y", cy + 13)
        .attr("text-anchor", "end")
        .attr("font-size", 35).attr("fill", "#111")
        .text(lbl);
    if (legShapes[i] === "c") {
        leg.append("circle").attr("cx", 1236).attr("cy", cy).attr("r", 9.5)
            .attr("fill", "none").attr("stroke", legColors[i]).attr("stroke-width", 4.5);
    } else {
        leg.append("rect").attr("x", 1228.5).attr("y", cy - 7.5).attr("width", 15).attr("height", 15)
            .attr("fill", "none").attr("stroke", legColors[i]).attr("stroke-width", 3);
    }
});

// legend: hipparcos / target
svg.append("circle").attr("cx", 219).attr("cy", 781).attr("r", 5).attr("fill", hipColor);
svg.append("text").attr("x", 253).attr("y", 796).attr("font-size", 37).attr("fill", "#111").text("Hipparcos");
svg.append("circle").attr("cx", 219).attr("cy", 833).attr("r", 10)
    .attr("fill", "none").attr("stroke", colG).attr("stroke-width", 5);
svg.append("text").attr("x", 253).attr("y", 847).attr("font-size", 37).attr("fill", "#111").text("Target");
</script>
</body>
</html>
